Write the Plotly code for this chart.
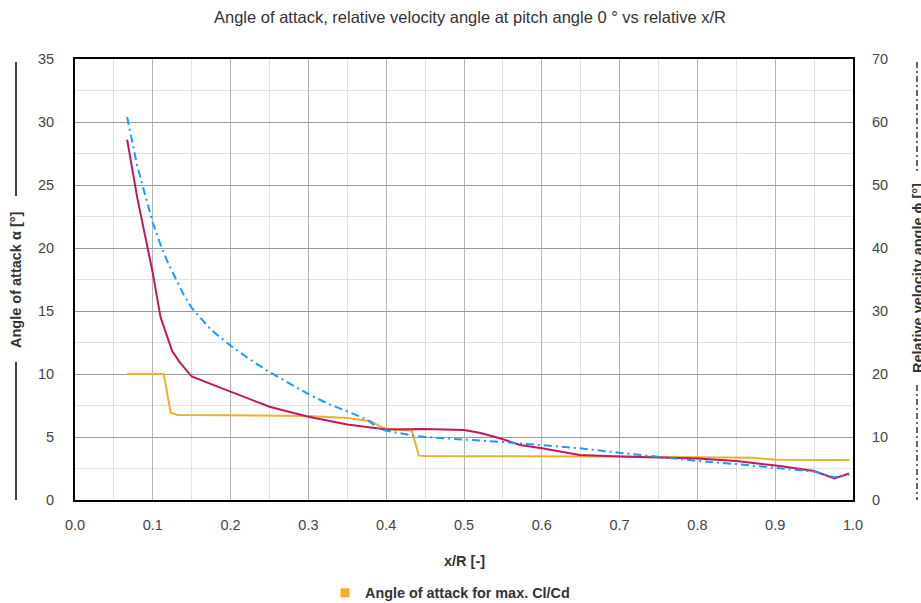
import plotly.graph_objects as go

# Relative radial position x/R
x_aoa = [0.067, 0.08, 0.09, 0.10, 0.11, 0.125, 0.135, 0.15, 0.175, 0.20, 0.25, 0.30, 0.35, 0.40,
         0.45, 0.50, 0.52, 0.546, 0.572, 0.60, 0.649, 0.70, 0.75, 0.80, 0.85, 0.906, 0.95, 0.976, 0.995]
# Angle of attack alpha [deg]
aoa = [28.6, 24.0, 21.0, 18.0, 14.5, 11.8, 10.9, 9.8, 9.2, 8.6, 7.4, 6.6, 6.0, 5.6,
       5.63, 5.55, 5.34, 4.9, 4.37, 4.1, 3.57, 3.45, 3.4, 3.3, 3.1, 2.7, 2.3, 1.72, 2.1]

x_phi = [0.067, 0.08, 0.09, 0.10, 0.11, 0.12, 0.13, 0.14, 0.15, 0.175, 0.20, 0.225, 0.25, 0.275,
         0.30, 0.325, 0.35, 0.375, 0.392, 0.435, 0.45, 0.52, 0.55, 0.60, 0.649, 0.70, 0.75, 0.80,
         0.85, 0.906, 0.95, 0.976, 0.995]
# Relative velocity angle phi [deg]
phi = [60.8, 53.0, 48.5, 44.0, 40.5, 37.5, 35.0, 32.5, 30.5, 27.0, 24.5, 22.3, 20.3, 18.5,
       16.8, 15.3, 14.0, 12.8, 11.2, 10.2, 10.0, 9.5, 9.2, 8.7, 8.2, 7.5, 6.8, 6.2,
       5.7, 5.03, 4.5, 3.6, 4.0]

x_opt = [0.067, 0.114, 0.123, 0.132, 0.20, 0.30, 0.35, 0.38, 0.392, 0.40, 0.433, 0.442,
         0.45, 0.649, 0.70, 0.80, 0.87, 0.90, 0.995]
# Angle of attack for max. Cl/Cd [deg]
aoa_opt = [10.0, 10.0, 6.93, 6.75, 6.72, 6.67, 6.5, 6.25, 5.87, 5.65, 5.5, 3.52,
           3.5, 3.49, 3.45, 3.4, 3.35, 3.2, 3.17]

C_AOA = "#C2185B"
C_PHI = "#1A9BFF"
C_OPT = "#F0AD2E"
FONT = "Liberation Sans, Arial, sans-serif"

fig = go.Figure()

fig.add_trace(go.Scatter(x=x_opt, y=aoa_opt, mode="lines", line=dict(color=C_OPT, width=2),
                         name="Angle of attack for max. Cl/Cd", showlegend=False))
fig.add_trace(go.Scatter(x=x_aoa, y=aoa, mode="lines", line=dict(color=C_AOA, width=2),
                         name="Angle of attack α", showlegend=False))
fig.add_trace(go.Scatter(x=x_phi, y=phi, mode="lines", yaxis="y2",
                         line=dict(color=C_PHI, width=2, dash="8px,4px,2px,4px"),
                         name="Relative velocity angle ϕ", showlegend=False))
# legend entry with a square swatch
fig.add_trace(go.Scatter(x=[None], y=[None], mode="markers",
                         marker=dict(color=C_OPT, symbol="square", size=9),
                         name="<b>Angle of attack for max. Cl/Cd</b>", showlegend=True))

L, R, T, B = 75, 68, 59, 103
W, H = 921, 603
pw, ph = W - L - R, H - T - B


def px_x(p):
    return (p - L) / pw


def px_y(p):
    return (H - B - p) / ph


TICK = dict(size=14.5, color="#444")

fig.update_layout(
    width=W, height=H,
    margin=dict(l=L, r=R, t=T, b=B, autoexpand=False),
    paper_bgcolor="white", plot_bgcolor="white",
    font=dict(family=FONT, size=14.5, color="#333"),
    title=dict(text="Angle of attack, relative velocity angle at pitch angle 0 ° vs relative x/R",
               x=470 / W, xanchor="center", y=1 - 17 / H, yanchor="middle",
               font=dict(size=16.5, color="#333")),
    xaxis=dict(range=[0, 1], tickvals=[i / 10 for i in range(11)],
               ticktext=[f"{i / 10:.1f}" for i in range(11)],
               showgrid=True, gridcolor="#b4b4b4", gridwidth=1,
               minor=dict(dtick=0.05, showgrid=True, gridcolor="#e0e0e0", gridwidth=1),
               showline=True, linecolor="black", linewidth=2, mirror=True,
               zeroline=False, ticks="", ticklabelstandoff=11, tickfont=TICK),
    yaxis=dict(range=[0, 35], dtick=5, tick0=0,
               showgrid=True, gridcolor="#9a9a9a", gridwidth=1,
               minor=dict(dtick=2.5, showgrid=True, gridcolor="#e0e0e0", gridwidth=1),
               showline=True, linecolor="black", linewidth=2, mirror=True,
               zeroline=False, ticks="", ticklabelstandoff=16, tickfont=TICK),
    yaxis2=dict(range=[0, 70], dtick=10, tick0=0, overlaying="y", side="right",
                showgrid=False, zeroline=False, showline=False, ticks="",
                ticklabelstandoff=18, tickfont=TICK),
    legend=dict(orientation="h", x=0.482, xanchor="center", y=px_y(593), yanchor="middle",
                font=dict(size=14.4, color="#333", family=FONT), itemwidth=30,
                bgcolor="rgba(0,0,0,0)"),
    showlegend=True,
)

annotations = [
    dict(text="<b>Angle of attack α [°]</b>", x=px_x(16), y=px_y(280), xref="paper", yref="paper",
         textangle=-90, showarrow=False, xanchor="center", yanchor="middle",
         font=dict(size=14.5, color="#333")),
    dict(text="<b>Relative velocity angle ϕ [°]</b>", x=px_x(918), y=px_y(278), xref="paper",
         yref="paper", textangle=-90, showarrow=False, xanchor="center", yanchor="middle",
         font=dict(size=14.5, color="#333")),
    dict(text="<b>x/R [-]</b>", x=0.5, y=px_y(561), xref="paper", yref="paper",
         showarrow=False, xanchor="center", yanchor="middle", font=dict(size=14.5, color="#333")),
]
fig.update_layout(annotations=annotations)

shapes = [
    dict(type="line", xref="paper", yref="paper", x0=px_x(16), x1=px_x(16),
         y0=px_y(62), y1=px_y(196), line=dict(color="black", width=1.5)),
    dict(type="line", xref="paper", yref="paper", x0=px_x(16), x1=px_x(16),
         y0=px_y(362), y1=px_y(500), line=dict(color="black", width=1.5)),
    dict(type="line", xref="paper", yref="paper", x0=px_x(917), x1=px_x(917),
         y0=px_y(62), y1=px_y(172), line=dict(color="#333", width=1.5, dash="6px,3px,2px,3px")),
    dict(type="line", xref="paper", yref="paper", x0=px_x(917), x1=px_x(917),
         y0=px_y(385), y1=px_y(500), line=dict(color="#333", width=1.5, dash="6px,3px,2px,3px")),
]
fig.update_layout(shapes=shapes)

fig.write_html("out.html")
